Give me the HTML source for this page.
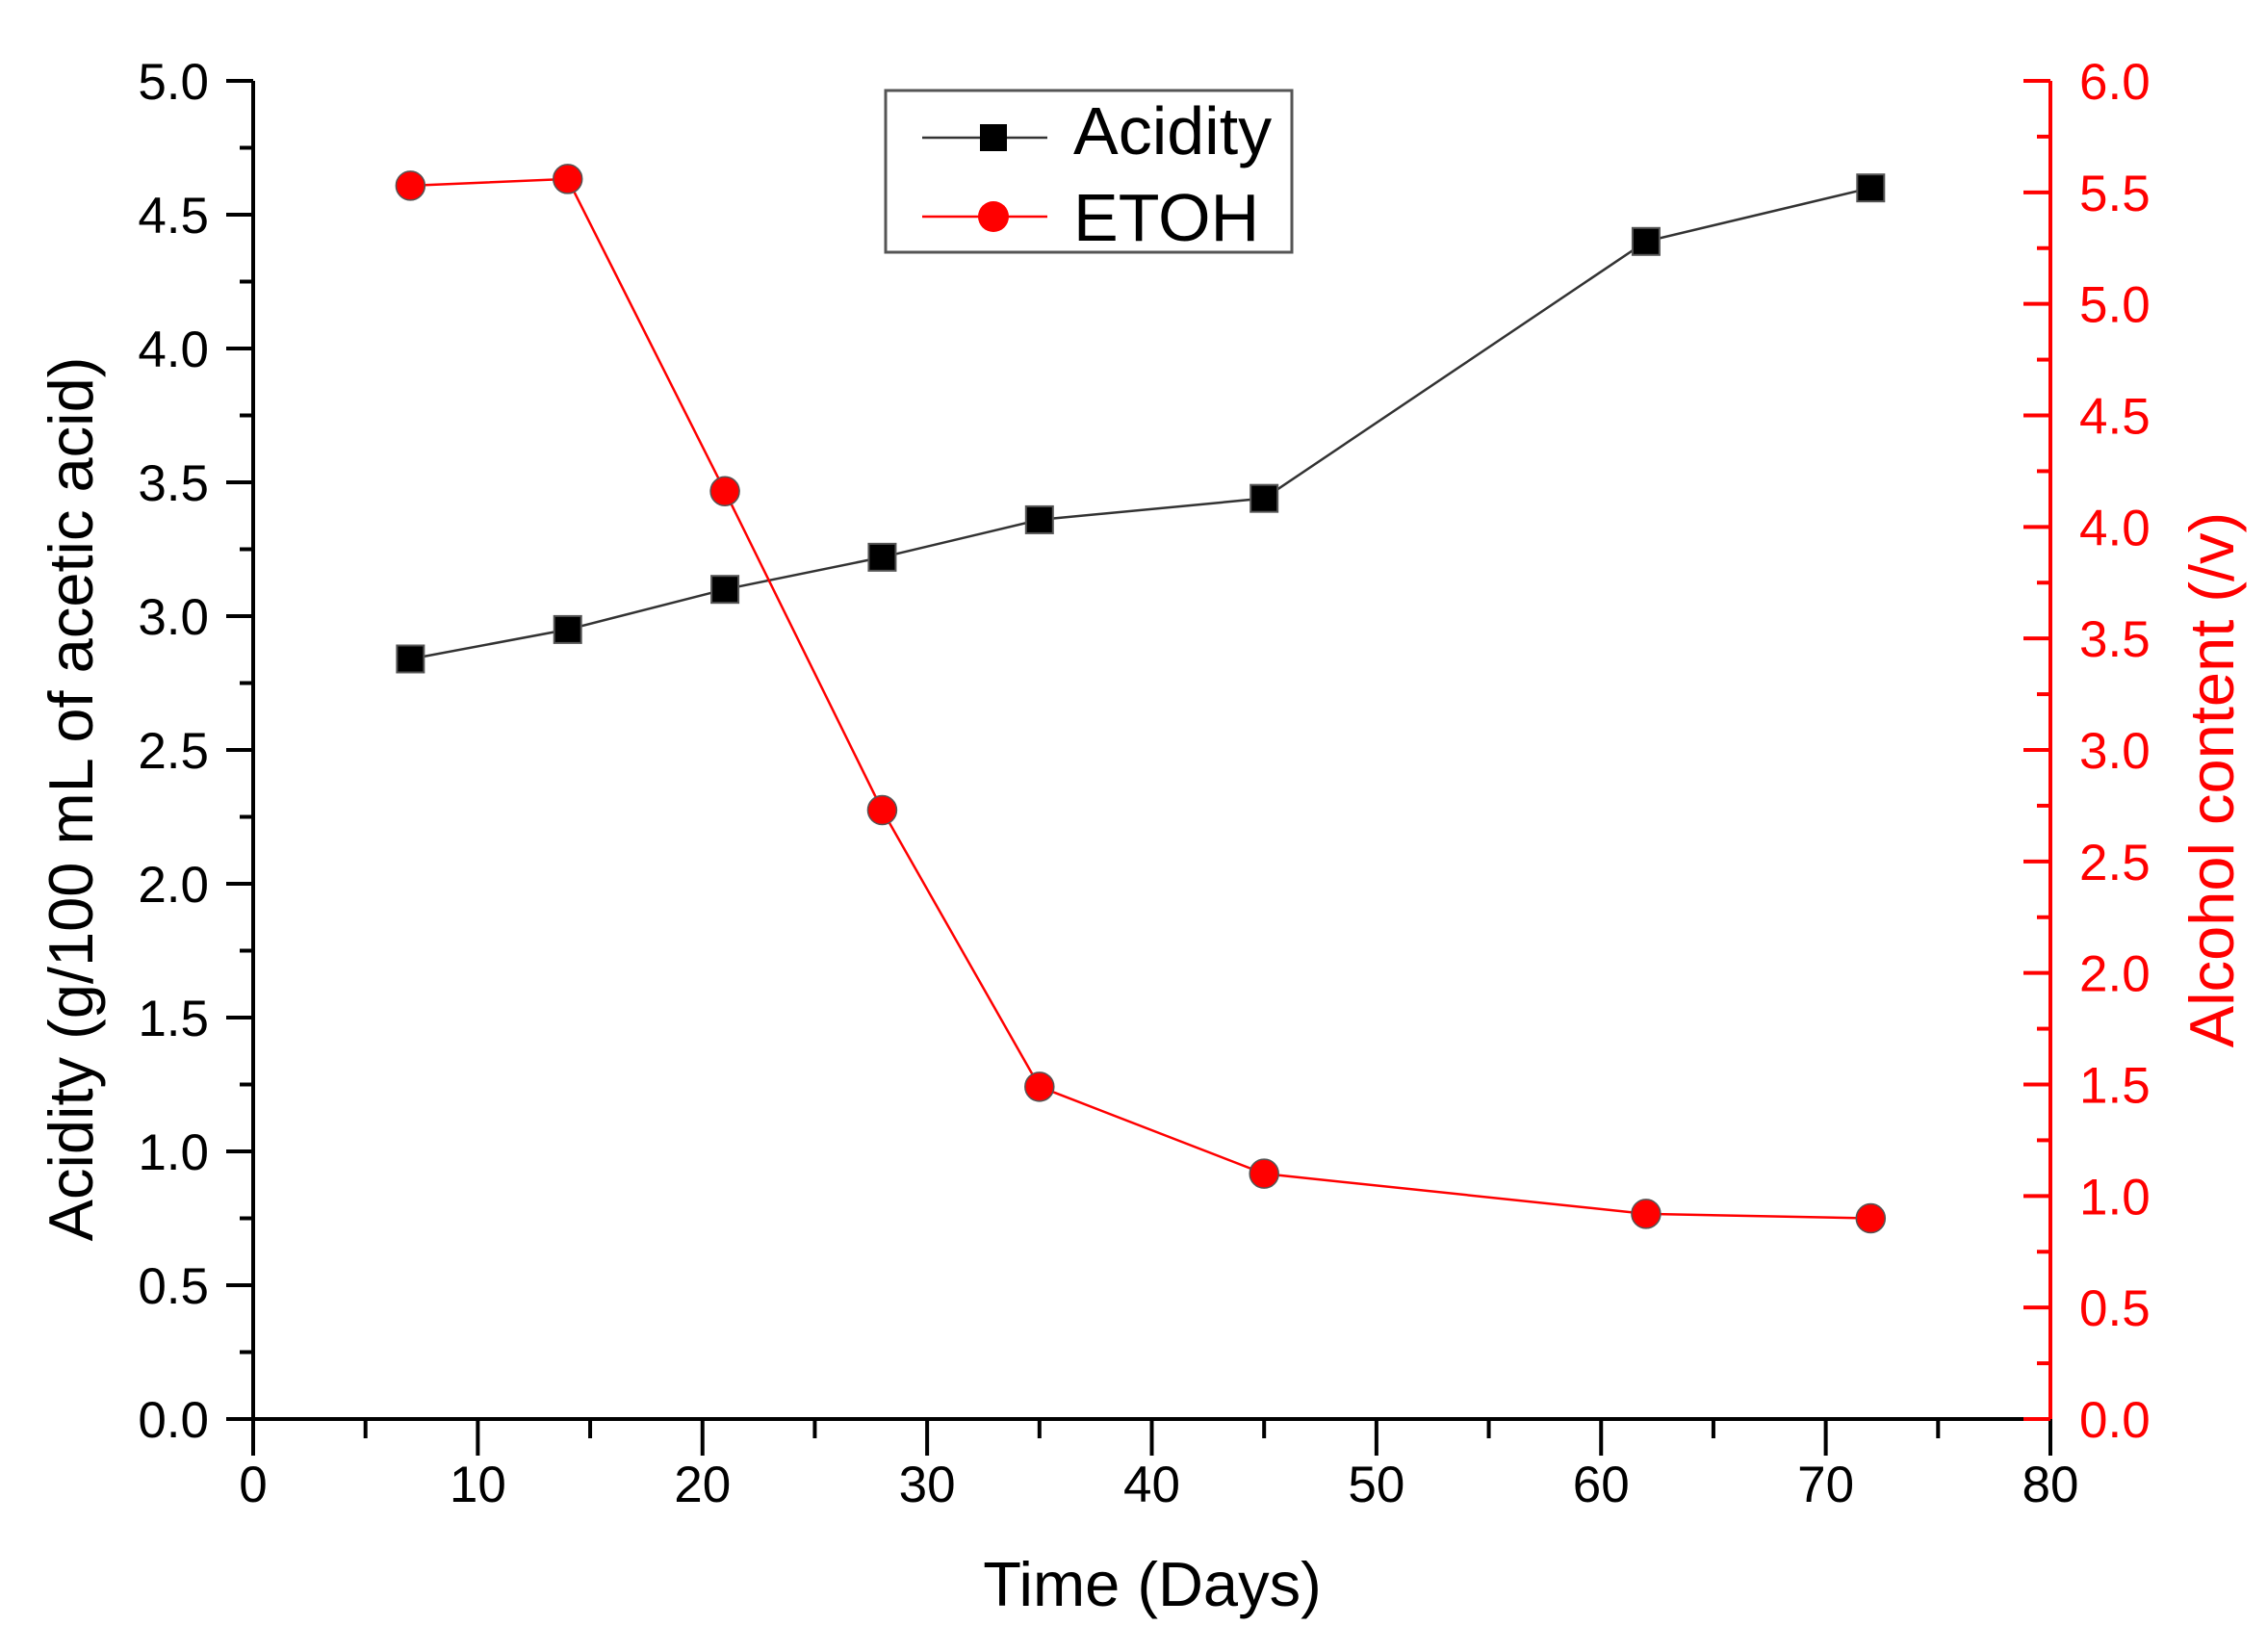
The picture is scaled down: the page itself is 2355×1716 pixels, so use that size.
<!DOCTYPE html>
<html><head><meta charset="utf-8"><style>
html,body{margin:0;padding:0;background:#fff}
svg{display:block;font-family:"Liberation Sans",Arial,sans-serif}
</style></head><body>
<svg id="chart" width="2355" height="1716" xmlns="http://www.w3.org/2000/svg"></svg>
<script>
const days = [7, 14, 21, 28, 35, 45, 62, 72];
const acidity = [2.84, 2.95, 3.10, 3.22, 3.36, 3.44, 4.40, 4.60];
const etoh = [5.53, 5.56, 4.16, 2.73, 1.49, 1.10, 0.92, 0.90];
const xTicks = [0, 10, 20, 30, 40, 50, 60, 70, 80];
const leftTicks = ["0.0","0.5","1.0","1.5","2.0","2.5","3.0","3.5","4.0","4.5","5.0"];
const rightTicks = ["0.0","0.5","1.0","1.5","2.0","2.5","3.0","3.5","4.0","4.5","5.0","5.5","6.0"];

const X0=263, X1=2130, Y0=1474, Y1=84;
const sx = v => X0 + (v-0)/80*(X1-X0);
const syL = v => Y0 - v/5*(Y0-Y1);
const syR = v => Y0 - v/6*(Y0-Y1);
const svg = document.getElementById('chart');
const NS='http://www.w3.org/2000/svg';
function mk(tag, attrs, parent){const e=document.createElementNS(NS,tag);for(const k in attrs)e.setAttribute(k,attrs[k]);(parent||svg).appendChild(e);return e;}

let g=mk('g',{});


mk('line',{x1:X0,y1:Y1,x2:X0,y2:Y0+2,stroke:'#000','stroke-width':4},g);
for(let i=0;i<=20;i++){const v=i*0.25,y=syL(v),maj=i%2===0;
 mk('line',{x1:X0-(maj?28:14),y1:y,x2:X0,y2:y,stroke:'#000','stroke-width':4},g);}
leftTicks.forEach(t=>{const e=mk('text',{x:217,y:syL(parseFloat(t))+19,'text-anchor':'end','font-size':53,fill:'#000'},g);e.textContent=t;
 
 });

g=mk('g',{});


mk('line',{x1:X0-28,y1:Y0,x2:X1,y2:Y0,stroke:'#000','stroke-width':4},g);
for(let v=0;v<=80;v+=5){const x=sx(v),maj=v%10===0;
 mk('line',{x1:x,y1:Y0,x2:x,y2:Y0+(maj?38:20),stroke:'#000','stroke-width':4},g);}
xTicks.forEach(t=>{const e=mk('text',{x:sx(t),y:1560,'text-anchor':'middle','font-size':53,fill:'#000'},g);e.textContent=t;
 
 });

g=mk('g',{});


mk('line',{x1:X1,y1:Y1,x2:X1,y2:Y0,stroke:'#f00','stroke-width':4},g);
for(let i=0;i<=24;i++){const v=i*0.25,y=syR(v),maj=i%2===0;
 mk('line',{x1:X1-(maj?28:14),y1:y,x2:X1,y2:y,stroke:'#f00','stroke-width':4},g);}
rightTicks.forEach(t=>{const e=mk('text',{x:2160,y:syR(parseFloat(t))+19,'font-size':53,fill:'#f00'},g);e.textContent=t;
 
 });

let t=mk('text',{x:1197,y:1668,'text-anchor':'middle','font-size':65,fill:'#000'});t.textContent='Time (Days)';


t=mk('text',{x:0,y:0,'text-anchor':'middle','font-size':65,fill:'#000',transform:'translate(96,830) rotate(-90)'});t.textContent='Acidity (g/100 mL of acetic acid)';


t=mk('text',{x:0,y:0,'text-anchor':'middle','font-size':65,fill:'#f00',transform:'translate(2320,810) rotate(-90)'});t.textContent='Alcohol content (/v)';



g=mk('g',{});


mk('polyline',{points:days.map((d,i)=>sx(d)+','+syL(acidity[i])).join(' '),fill:'none',stroke:'#333','stroke-width':2.5},g);
days.forEach((d,i)=>{const r=mk('rect',{x:sx(d)-14,y:syL(acidity[i])-14,width:28,height:28,fill:'#000',stroke:'#555','stroke-width':2},g);
 
 });

g=mk('g',{});


mk('polyline',{points:days.map((d,i)=>sx(d)+','+syR(etoh[i])).join(' '),fill:'none',stroke:'#f00','stroke-width':2.5},g);
days.forEach((d,i)=>{const c=mk('circle',{cx:sx(d),cy:syR(etoh[i]),r:15,fill:'#f00',stroke:'#555','stroke-width':1.5},g);
 
 });

g=mk('g',{});


mk('rect',{x:920,y:94,width:422,height:168,fill:'#fff',stroke:'#555','stroke-width':3},g);
mk('line',{x1:958,y1:143,x2:1088,y2:143,stroke:'#333','stroke-width':2.5},g);
mk('rect',{x:1018,y:129,width:28,height:28,fill:'#000'},g);
t=mk('text',{x:1115,y:160,'font-size':70,fill:'#000'},g);t.textContent='Acidity';


mk('line',{x1:958,y1:225,x2:1088,y2:225,stroke:'#f00','stroke-width':2.5},g);
mk('circle',{cx:1032,cy:225,r:16,fill:'#f00'},g);
t=mk('text',{x:1115,y:250,'font-size':70,fill:'#000'},g);t.textContent='ETOH';


</script>
</body></html>
